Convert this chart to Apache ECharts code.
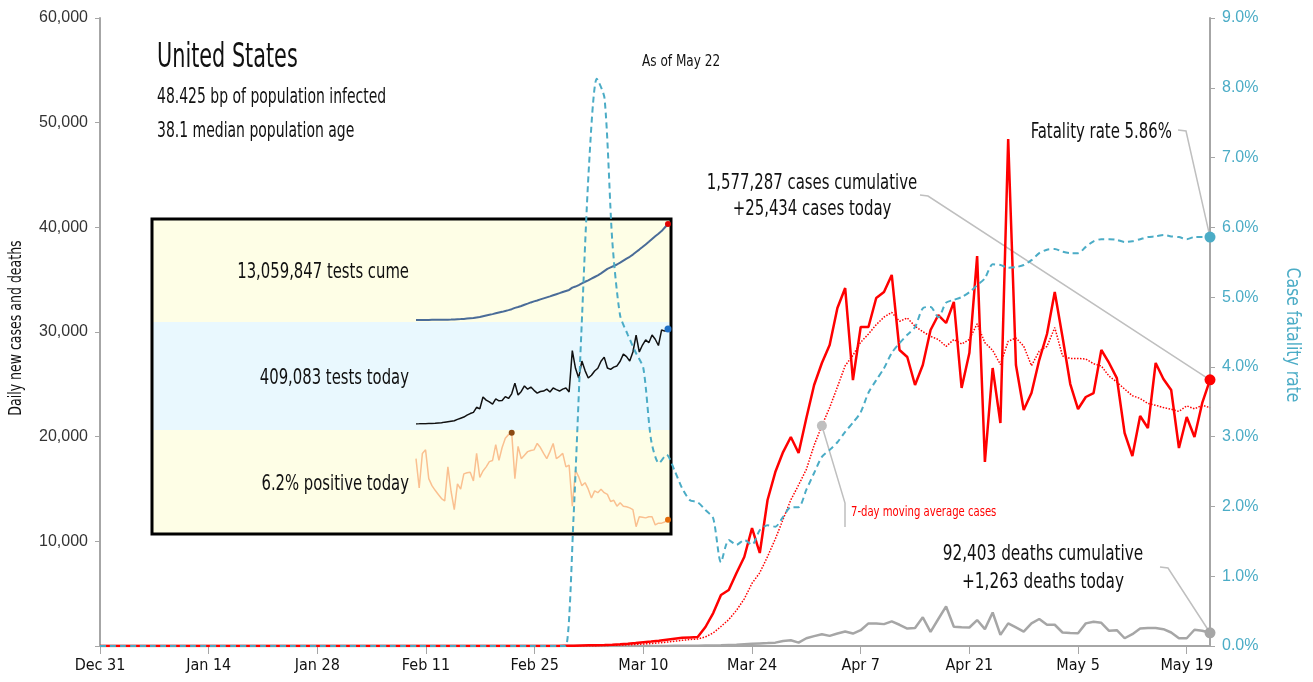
<!DOCTYPE html>
<html>
<head>
<meta charset="utf-8">
<script src="https://cdn.jsdelivr.net/npm/echarts@6/dist/echarts.min.js"></script>
<style>
    body { margin: 0; background: #fff; }
    #chart { width: 1313px; height: 682px; }
</style>
</head>
<body>
<div id="chart"></div>
<script>
    // x axis: one point per day, Dec 31 .. May 22
    var tickLabels = ['Dec 31', 'Jan 14', 'Jan 28', 'Feb 11', 'Feb 25', 'Mar 10', 'Mar 24', 'Apr 7', 'Apr 21', 'May 5', 'May 19'];

    // daily new cases
    var cases = [
        0, 0, 0, 0, 0, 0, 0, 0, 0, 0,
        0, 0, 0, 0, 0, 0, 0, 0, 0, 0,
        0, 1, 0, 0, 1, 1, 0, 0, 0, 0,
        1, 1, 1, 1, 0, 3, 0, 0, 0, 1,
        0, 0, 1, 0, 0, 0, 0, 0, 0, 0,
        0, 0, 0, 0, 1, 0, 0, 0, 6, 3,
        25, 30, 45, 60, 75, 100, 130, 170, 220, 280,
        350, 420, 500, 600, 700, 780, 820, 860, 1815, 3150,
        4870, 5350, 6975, 8500, 11270, 8885, 13950, 16620, 18530, 19970,
        18440, 21780, 24940, 27040, 28760, 32290, 34200, 25410, 30480, 30480,
        33250, 33820, 35450, 28280, 27610, 24940, 26850, 30190, 31620, 30860,
        32870, 24650, 27990, 37260, 17580, 26560, 21300, 48440, 26850, 22550,
        24170, 27320, 29810, 33820, 29520, 25030, 22640, 23790, 24170, 28280,
        27040, 25600, 20350, 18150, 21970, 20830, 27040, 25510, 24460, 18920,
        21880, 19970, 23220, 25434
    ];

    // 7-day moving average of cases
    var casesAvg = [
        0, 0, 0, 0, 0, 0, 0, 0, 0, 0,
        0, 0, 0, 0, 0, 0, 0, 0, 0, 0,
        0, 0, 0, 0, 0, 0, 0, 0, 0, 0,
        0, 1, 1, 1, 1, 1, 1, 1, 1, 1,
        1, 0, 0, 0, 0, 0, 0, 0, 0, 0,
        0, 0, 0, 0, 0, 0, 0, 0, 1, 1,
        5, 9, 16, 24, 35, 49, 66, 88, 117, 150,
        190, 240, 300, 370, 450, 540, 620, 670, 870, 1250,
        1860, 2520, 3410, 4500, 5990, 7000, 8540, 10220, 12100, 13960,
        15380, 16880, 19180, 21050, 22780, 24750, 26780, 27770, 29020, 29810,
        30700, 31420, 31870, 31020, 31340, 30550, 30030, 29590, 29280, 28620,
        29280, 28850, 29290, 30780, 28980, 28250, 26890, 29110, 29430, 28650,
        26780, 28170, 28630, 30420, 27720, 27460, 27470, 27420, 26970, 26750,
        25780, 25220, 24550, 23910, 23650, 23170, 23000, 22780, 22620, 22410,
        22940, 22660, 23000, 22770
    ];

    // daily new deaths
    var deaths = [
        0, 0, 0, 0, 0, 0, 0, 0, 0, 0,
        0, 0, 0, 0, 0, 0, 0, 0, 0, 0,
        0, 0, 0, 0, 0, 0, 0, 0, 0, 0,
        0, 0, 0, 0, 0, 0, 0, 0, 0, 0,
        0, 0, 0, 0, 0, 0, 0, 0, 0, 0,
        0, 0, 0, 0, 0, 0, 0, 0, 0, 0,
        1, 1, 3, 2, 3, 2, 4, 5, 4, 8,
        4, 7, 10, 8, 12, 14, 20, 25, 40, 50,
        60, 90, 120, 170, 220, 250, 280, 320, 480, 545,
        320, 740, 940, 1130, 965, 1190, 1380, 1190, 1510, 2160,
        2160, 2090, 2350, 2030, 1670, 1710, 2740, 1350, 2580, 3780,
        1840, 1800, 1770, 2480, 1610, 3200, 1060, 2160, 1770, 1380,
        2160, 2580, 2030, 2030, 1290, 1250, 1220, 2160, 2320, 2220,
        1450, 1510, 740, 1130, 1670, 1710, 1710, 1610, 1290, 740,
        740, 1550, 1450, 1263
    ];

    // case fatality rate, %
    var fatality = [
        0, 0, 0, 0, 0, 0, 0, 0, 0, 0,
        0, 0, 0, 0, 0, 0, 0, 0, 0, 0,
        0, 0, 0, 0, 0, 0, 0, 0, 0, 0,
        0, 0, 0, 0, 0, 0, 0, 0, 0, 0,
        0, 0, 0, 0, 0, 0, 0, 0, 0, 0,
        0, 0, 0, 0, 0, 0, 0, 0, 0, 0,
        0, 1.83, 4.46, 6.89, 8.13, 7.85, 5.80, 4.74, 4.46, 4.21,
        3.98, 2.95, 2.62, 2.74, 2.52, 2.26, 2.09, 2.06, 1.95, 1.83,
        1.20, 1.52, 1.45, 1.52, 1.45, 1.66, 1.73, 1.71, 1.85, 1.99,
        1.99, 2.24, 2.48, 2.71, 2.81, 2.92, 3.07, 3.20, 3.35, 3.63,
        3.81, 3.98, 4.20, 4.34, 4.46, 4.57, 4.84, 4.86, 4.71, 4.92,
        4.96, 5.00, 5.07, 5.17, 5.27, 5.47, 5.46, 5.42, 5.43, 5.46,
        5.53, 5.63, 5.68, 5.69, 5.65, 5.63, 5.63, 5.72, 5.80, 5.83,
        5.83, 5.82, 5.79, 5.80, 5.83, 5.86, 5.87, 5.89, 5.87, 5.86,
        5.83, 5.86, 5.86, 5.86
    ];

    // inset: testing, Mar 4 .. May 22
    var testsCume = [   // millions
        0.00, 0.00, 0.01, 0.01, 0.01, 0.02, 0.02, 0.03, 0.03, 0.04,
        0.05, 0.06, 0.08, 0.10, 0.12, 0.15, 0.19, 0.23, 0.27, 0.34,
        0.41, 0.52, 0.62, 0.72, 0.80, 0.91, 1.01, 1.11, 1.23, 1.34,
        1.47, 1.65, 1.77, 1.91, 2.08, 2.23, 2.39, 2.53, 2.66, 2.80,
        2.94, 3.08, 3.22, 3.37, 3.51, 3.65, 3.80, 3.95, 4.09, 4.40,
        4.55, 4.75, 4.98, 5.20, 5.40, 5.62, 5.85, 6.08, 6.35, 6.65,
        6.95, 7.15, 7.35, 7.55, 7.80, 8.08, 8.35, 8.60, 8.90, 9.25,
        9.58, 9.92, 10.28, 10.64, 11.02, 11.40, 11.74, 12.10, 12.58, 13.06
    ];
    var testsToday = [  // thousands
        0.5, 0.7, 1, 1.5, 2, 2.5, 3, 4, 5, 8,
        10, 12, 14, 20, 25, 30, 38, 45, 50, 72,
        65, 116, 103, 95, 86, 108, 100, 101, 118, 110,
        130, 176, 125, 140, 164, 150, 159, 145, 133, 140,
        142, 150, 138, 155, 148, 142, 150, 155, 138, 316,
        240, 198, 271, 230, 198, 210, 228, 240, 270, 288,
        241, 235, 245, 250, 270, 301, 290, 271, 310, 383,
        310, 340, 362, 350, 383, 365, 338, 405, 400, 409.083
    ];
    var positiveRate = [  // %
        16.6, 11.6, 17.5, 18.1, 13.2, 12.0, 11.2, 10.5, 9.8, 9.4,
        15.2, 11.0, 7.9, 12.3, 11.4, 14.0, 14.2, 14.3, 12.8, 17.5,
        13.4, 14.5, 15.2, 16.1, 16.3, 19.0, 16.3, 18.5, 20.1, 20.7,
        21.0, 13.2, 18.7, 16.6, 17.2, 17.8, 18.0, 18.1, 19.2, 18.5,
        17.5, 16.6, 17.8, 19.2, 16.6, 17.0, 17.5, 15.2, 15.5, 8.5,
        14.6, 13.5, 12.0, 12.5, 11.4, 9.9, 11.1, 10.8, 11.4, 10.8,
        10.5, 9.3, 9.5, 8.5, 9.1, 8.5, 8.4, 8.2, 7.9, 5.0,
        6.7, 6.6, 6.5, 6.7, 6.7, 5.3, 5.6, 5.6, 5.8, 6.2
    ];

    var NARROW = "'Liberation Sans Narrow', 'DejaVu Sans Condensed', 'Roboto Condensed', sans-serif";
    var TEAL = '#4BACC6';
    var GREY = '#A6A6A6';

    var days = cases.map(function (v, i) { return i; });
    var testDays = testsCume.map(function (v, i) { return i; });

    // put a dot on chosen points of a line
    function withDots(arr, dots) {
        return arr.map(function (v, i) {
            if (dots[i]) {
                return { value: v, symbol: 'circle', symbolSize: dots[i].size, itemStyle: { color: dots[i].color } };
            }
            return v;
        });
    }
    var dotsLast = function (arr, color, size) {
        var d = {};
        d[arr.length - 1] = { color: color, size: size };
        return d;
    };

    var chart = echarts.init(document.getElementById('chart'));

    var option = {
        animation: false,
        grid: [
            { left: 100, right: 103, top: 18, bottom: 36 },
            { left: 416, right: 645, top: 224, height: 96 },
            { left: 416, right: 645, top: 329, height: 95 },
            { left: 416, right: 645, top: 427, height: 129 }
        ],
        xAxis: [{
            type: 'category',
            gridIndex: 0,
            data: days,
            boundaryGap: false,
            axisLine: { lineStyle: { color: GREY, width: 2 } },
            axisTick: {
                interval: function (i) { return i % 14 === 0; },
                length: 8,
                lineStyle: { color: GREY, width: 1 }
            },
            axisLabel: {
                interval: function (i) { return i % 14 === 0; },
                formatter: function (v, i) { return tickLabels[i / 14]; },
                color: '#111',
                fontFamily: NARROW,
                fontSize: 16,
                margin: 12
            }
        },
        { type: 'category', gridIndex: 1, data: testDays, boundaryGap: false, show: false },
        { type: 'category', gridIndex: 2, data: testDays, boundaryGap: false, show: false },
        { type: 'category', gridIndex: 3, data: testDays, boundaryGap: false, show: false }],
        yAxis: [{
            type: 'value',
            gridIndex: 0,
            min: 0,
            max: 60000,
            interval: 10000,
            axisLine: { show: true, lineStyle: { color: GREY, width: 2 } },
            axisTick: { show: true, length: 5, lineStyle: { color: GREY } },
            splitLine: { show: false },
            axisLabel: {
                color: '#333',
                fontFamily: 'Liberation Sans, Arial, sans-serif',
                fontSize: 16,
                margin: 12,
                formatter: function (v) { return v === 0 ? '' : v.toLocaleString('en-US'); }
            }
        }, {
            type: 'value',
            gridIndex: 0,
            position: 'right',
            min: 0,
            max: 9,
            interval: 1,
            axisLine: { show: true, lineStyle: { color: GREY, width: 2 } },
            axisTick: { show: true, length: 5, lineStyle: { color: GREY } },
            splitLine: { show: false },
            axisLabel: {
                color: TEAL,
                fontFamily: 'Liberation Sans, Arial, sans-serif',
                fontSize: 16,
                margin: 12,
                formatter: function (v) { return v.toFixed(1) + '%'; }
            }
        },
        { type: 'value', gridIndex: 1, min: 0, max: 13.06, show: false },
        { type: 'value', gridIndex: 2, min: 0, max: 409.083, show: false },
        { type: 'value', gridIndex: 3, min: 0, max: 22, show: false }],
        series: [{
            name: 'Deaths',
            type: 'line',
            xAxisIndex: 0,
            yAxisIndex: 0,
            symbol: 'none',
            showAllSymbol: true,
            lineStyle: { color: GREY, width: 2.5 },
            itemStyle: { color: GREY },
            data: withDots(deaths, dotsLast(deaths, GREY, 11)),
            z: 3
        }, {
            name: '7-day moving average cases',
            type: 'line',
            xAxisIndex: 0,
            yAxisIndex: 0,
            symbol: 'none',
            showAllSymbol: true,
            lineStyle: { color: '#FF0000', width: 1.5, type: 'dotted' },
            data: withDots(casesAvg, { 93: { color: '#BFBFBF', size: 10 } }),
            z: 4
        }, {
            name: 'Cases',
            type: 'line',
            xAxisIndex: 0,
            yAxisIndex: 0,
            symbol: 'none',
            showAllSymbol: true,
            lineStyle: { color: '#FF0000', width: 2.5 },
            data: withDots(cases, dotsLast(cases, '#FF0000', 11)),
            z: 5
        }, {
            name: 'Case fatality rate',
            type: 'line',
            xAxisIndex: 0,
            yAxisIndex: 1,
            symbol: 'none',
            showAllSymbol: true,
            smooth: 0.25,
            lineStyle: { color: TEAL, width: 2, type: [6, 4] },
            data: withDots(fatality, dotsLast(fatality, TEAL, 11)),
            z: 6
        }, {
            name: 'Tests cume',
            type: 'line',
            xAxisIndex: 1,
            yAxisIndex: 2,
            symbol: 'none',
            showAllSymbol: true,
            lineStyle: { color: '#4A6C98', width: 2 },
            data: withDots(testsCume, dotsLast(testsCume, '#E00000', 6))
        }, {
            name: 'Tests today',
            type: 'line',
            xAxisIndex: 2,
            yAxisIndex: 3,
            symbol: 'none',
            showAllSymbol: true,
            lineStyle: { color: '#111', width: 1.5 },
            data: withDots(testsToday, dotsLast(testsToday, '#1F6FC5', 7))
        }, {
            name: 'Positive today',
            type: 'line',
            xAxisIndex: 3,
            yAxisIndex: 4,
            symbol: 'none',
            showAllSymbol: true,
            lineStyle: { color: '#FAC090', width: 1.5 },
            data: withDots(positiveRate, { 30: { color: '#8B4A12', size: 6 }, 79: { color: '#E46C0A', size: 6 } })
        }]
    };
    chart.setOption(option);

    // pixel positions of the annotated points
    var last = days.length - 1;
    var pCase = chart.convertToPixel({ seriesIndex: 2 }, [last, cases[last]]);
    var pRate = chart.convertToPixel({ seriesIndex: 3 }, [last, fatality[last]]);
    var pDeath = chart.convertToPixel({ seriesIndex: 0 }, [last, deaths[last]]);
    var pAvg = chart.convertToPixel({ seriesIndex: 1 }, [93, casesAvg[93]]);

    // condensed text: squeeze horizontally around its anchor
    function txt(str, x, y, size, squeeze, align, color, rotation) {
        return {
            type: 'text',
            z: 10,
            x: x,
            y: y,
            scaleX: squeeze,
            rotation: rotation || 0,
            style: {
                text: str,
                x: 0,
                y: 0,
                fill: color || '#111',
                font: size + 'px ' + NARROW,
                align: align || 'left',
                verticalAlign: 'middle'
            }
        };
    }
    function leader(points) {
        return {
            type: 'polyline',
            z: 1,
            shape: { points: points },
            style: { stroke: '#BFBFBF', lineWidth: 1.5, fill: null }
        };
    }

    chart.setOption({
        graphic: [
            // inset panel
            { type: 'rect', z: 0, shape: { x: 152, y: 219, width: 519, height: 103 }, style: { fill: '#FEFEE6' } },
            { type: 'rect', z: 0, shape: { x: 152, y: 322, width: 519, height: 108 }, style: { fill: '#E9F8FE' } },
            { type: 'rect', z: 0, shape: { x: 152, y: 430, width: 519, height: 104 }, style: { fill: '#FEFEE6' } },
            { type: 'rect', z: 1, shape: { x: 152, y: 219, width: 519, height: 315 }, style: { fill: null, stroke: '#000', lineWidth: 3 } },
            txt('13,059,847 tests cume', 409, 272, 22, 0.75, 'right'),
            txt('409,083 tests today', 409, 378, 22, 0.75, 'right'),
            txt('6.2% positive today', 409, 484, 22, 0.75, 'right'),

            // axis titles
            txt('Daily new cases and deaths', 17, 328, 17, 0.82, 'center', '#111', Math.PI / 2),
            txt('Case fatality rate', 1292, 335, 20, 0.87, 'center', TEAL, -Math.PI / 2),

            // headings
            txt('United States', 157, 58, 33, 0.70),
            txt('48.425 bp of population infected', 157, 98, 21, 0.74),
            txt('38.1 median population age', 157, 132, 21, 0.74),
            txt('As of May 22', 642, 62, 16, 0.84),

            // call-outs
            txt('1,577,287 cases cumulative', 812, 184, 21, 0.79, 'center'),
            txt('+25,434 cases today', 812, 210, 21, 0.79, 'center'),
            leader([[920, 195], [928, 196], pCase]),
            txt('Fatality rate 5.86%', 1172, 133, 21, 0.79, 'right'),
            leader([[1178, 130], [1186, 131], pRate]),
            txt('92,403 deaths cumulative', 1043, 555, 21, 0.81, 'center'),
            txt('+1,263 deaths today', 1043, 583, 21, 0.81, 'center'),
            leader([[1160, 567], [1168, 568], pDeath]),
            txt('7-day moving average cases', 851, 512, 14, 0.80, 'left', '#FF0000'),
            leader([pAvg, [845, 503], [845, 527]])
        ]
    });
</script>
</body>
</html>
